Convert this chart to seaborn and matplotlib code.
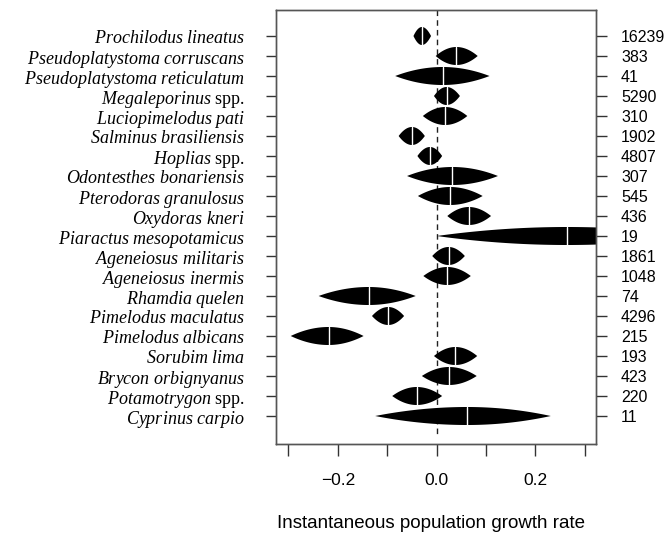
import numpy as np
import pandas as pd
import matplotlib
matplotlib.use("Agg")
import matplotlib.pyplot as plt
import seaborn as sns

species = ["Prochilodus lineatus", "Pseudoplatystoma corruscans", "Pseudoplatystoma reticulatum",
           "Megaleporinus spp.", "Luciopimelodus pati", "Salminus brasiliensis", "Hoplias spp.",
           "Odontesthes bonariensis", "Pterodoras granulosus", "Oxydoras kneri",
           "Piaractus mesopotamicus", "Ageneiosus militaris", "Ageneiosus inermis",
           "Rhamdia quelen", "Pimelodus maculatus", "Pimelodus albicans", "Sorubim lima",
           "Brycon orbignyanus", "Potamotrygon spp.", "Cyprinus carpio"]
lower = [-0.047, -0.002, -0.084, -0.0055, -0.028, -0.077, -0.039, -0.060, -0.038, 0.0215,
         0.0, -0.009, -0.027, -0.239, -0.131, -0.2955, -0.0055, -0.030, -0.090, -0.1245]
estimate = [-0.030, 0.040, 0.012, 0.020, 0.017, -0.050, -0.0136, 0.032, 0.027, 0.065,
            0.264, 0.024, 0.0215, -0.138, -0.098, -0.219, 0.038, 0.025, -0.0405, 0.062]
upper = [-0.0115, 0.083, 0.107, 0.047, 0.062, -0.024, 0.011, 0.124, 0.093, 0.110,
         0.53, 0.057, 0.069, -0.0425, -0.066, -0.148, 0.082, 0.081, 0.011, 0.231]
sample_n = [16239, 383, 41, 5290, 310, 1902, 4807, 307, 545, 436,
            19, 1861, 1048, 74, 4296, 215, 193, 423, 220, 11]
x_ticks = [-0.3, -0.2, -0.1, 0.0, 0.1, 0.2, 0.3]
x_tick_labels = ["", "\u22120.2", "", "0.0", "", "0.2", ""]

df = pd.DataFrame({"species": species, "lo": lower, "est": estimate, "hi": upper, "n": sample_n})
df["row"] = np.arange(len(df))

sns.set_theme(style="ticks")
plt.rcParams["mathtext.fontset"] = "custom"
plt.rcParams["mathtext.it"] = "Liberation Serif:italic"
plt.rcParams["mathtext.rm"] = "Liberation Serif"
plt.rcParams["text.color"] = "black"
plt.rcParams["axes.labelcolor"] = "black"
plt.rcParams["xtick.labelcolor"] = "black"
plt.rcParams["ytick.labelcolor"] = "black"

fig = plt.figure(figsize=(6.65, 5.37), dpi=100)
ax = fig.add_axes([276 / 665, 1 - 444 / 537, 320 / 665, 434 / 537])

half_h = 0.45
for _, r in df.iterrows():
    xl = np.linspace(r.lo, r.est, 80)
    xr = np.linspace(r.est, r.hi, 80)
    tl = (r.est - xl) / (r.est - r.lo)
    tr = (xr - r.est) / (r.hi - r.est)
    hl = half_h * (1 - tl ** 2)
    hr = half_h * (1 - tr ** 2)
    xs = np.concatenate([xl, xr, xr[::-1], xl[::-1]])
    ys = np.concatenate([r.row - hl, r.row - hr, (r.row + hr)[::-1], (r.row + hl)[::-1]])
    ax.fill(xs, ys, color="black", lw=0, zorder=2)
    ax.plot([r.est, r.est], [r.row - half_h, r.row + half_h], color="white", lw=1, zorder=3)

ax.plot([0, 0], [-1.3, 19.95], color="#222222", lw=1, ls=(0, (4, 3)), zorder=1)

ax.set_xlim(-0.3253, 0.3225)
ax.set_ylim(20.4, -1.3)

def fmt_label(s):
    if s.endswith(" spp."):
        g = s[:-5]
        return r"$\mathit{" + g + r"}$ spp."
    return r"$\mathit{" + s.replace(" ", r"\ ") + r"}$"

ax.set_yticks(df["row"])
ax.set_yticklabels([fmt_label(s) for s in df["species"]], fontfamily="Liberation Serif", fontsize=13)
ax.tick_params(axis="y", length=7.5, width=1, pad=15, color="#333333", labelcolor="black")

ax.set_xticks(x_ticks)
ax.set_xticklabels(x_tick_labels, fontfamily="Liberation Sans", fontsize=12.5)
ax.tick_params(axis="x", length=8.5, width=1, pad=12.5, color="#333333", labelcolor="black")
ax.set_xlabel("Instantaneous population growth rate", fontfamily="Liberation Sans", fontsize=13.5, color="black")
ax.xaxis.set_label_coords(0.484, -0.163)

for sp in ax.spines.values():
    sp.set_visible(True)
    sp.set_color("#555555")
    sp.set_linewidth(1)

ax2 = ax.twinx()
ax2.set_ylim(ax.get_ylim())
ax2.set_yticks(df["row"])
ax2.set_yticklabels([str(v) for v in df["n"]], fontfamily="Liberation Sans", fontsize=11.5)
ax2.tick_params(axis="y", length=8, width=1, pad=10, color="#333333", labelcolor="black")
for sp in ax2.spines.values():
    sp.set_visible(True)
    sp.set_color("#555555")
    sp.set_linewidth(1)

fig.savefig("out.png", dpi=100)
